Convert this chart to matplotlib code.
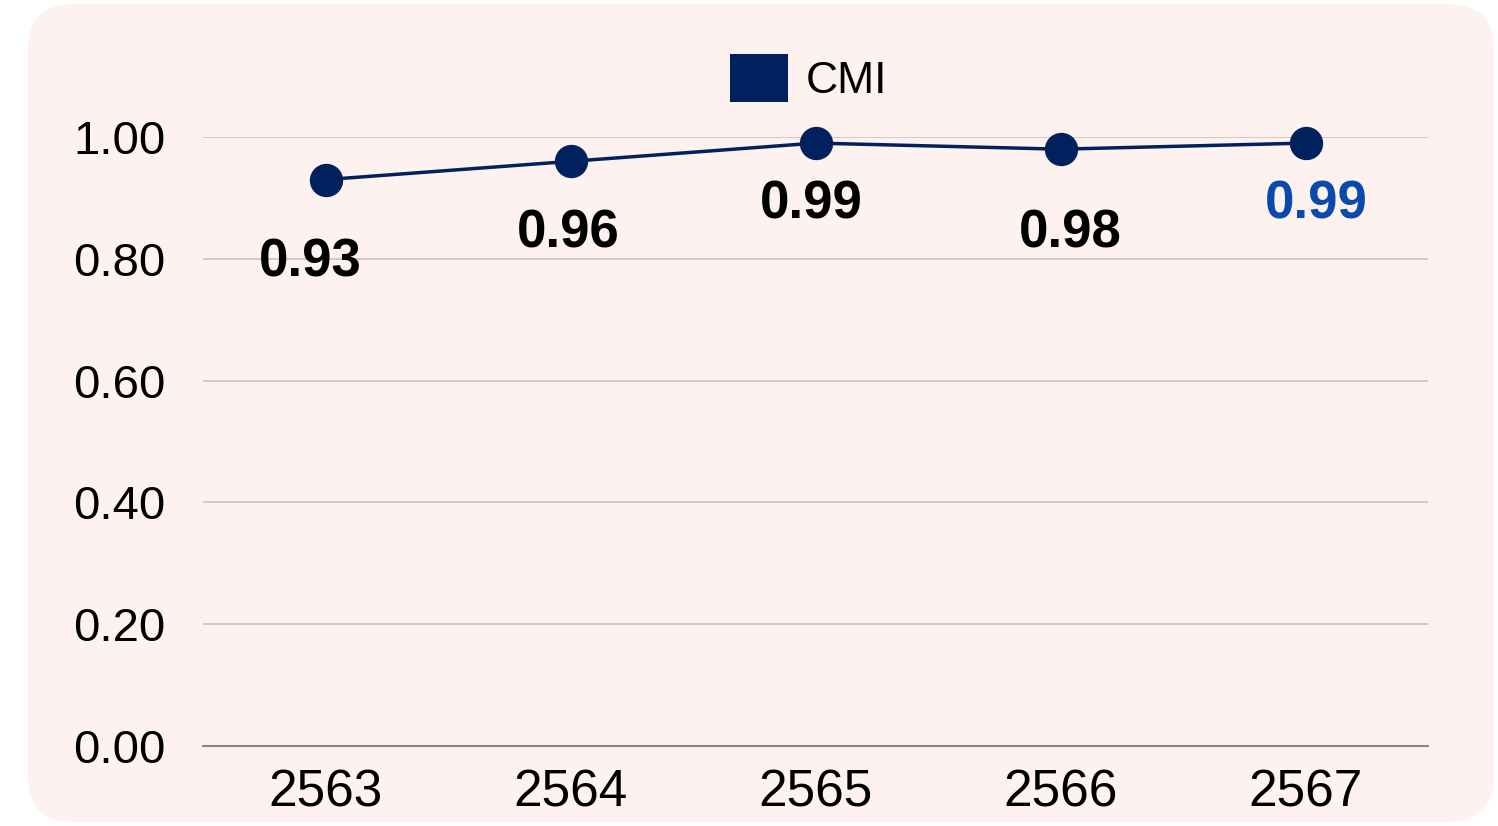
import matplotlib.pyplot as plt
from matplotlib.patches import FancyBboxPatch
from matplotlib.transforms import IdentityTransform

years = ["2563", "2564", "2565", "2566", "2567"]
cmi = [0.93, 0.96, 0.99, 0.98, 0.99]
label_colors = ["black", "black", "black", "black", "#0a4aad"]

plt.rcParams["font.family"] = ["Liberation Sans", "DejaVu Sans"]

navy = "#00215e"
W, H = 1498, 826
fig = plt.figure(figsize=(W / 100, H / 100), dpi=100)
fig.patch.set_facecolor("white")

# rounded pink card behind the chart (pixel units)
card = FancyBboxPatch((28, 4), 1466, 818,
                      boxstyle="round,pad=0,rounding_size=45",
                      transform=IdentityTransform(), facecolor="#fdf2f0",
                      edgecolor="none", zorder=-5)
fig.patches.append(card)

ax = fig.add_axes([203 / W, 1 - 746 / H, 1225 / W, 609 / H])
ax.set_facecolor("none")
ax.set_zorder(2)

x = list(range(len(years)))
ax.plot(x, cmi, color=navy, lw=2.5, marker="o", markersize=23,
        label="CMI", clip_on=False, zorder=3)

# value labels below points
label_offsets = [(-11, -60), (-1.5, -52), (-3, -44), (7, -61), (8, -44)]
for xi, v, c, off in zip(x, cmi, label_colors, label_offsets):
    ax.annotate(f"{v:.2f}", (xi, v), xytext=off, textcoords="offset points",
                ha="center", va="center", fontsize=38, fontweight="bold",
                color=c, zorder=4)

ax.set_xlim(-0.5, len(years) - 0.5)
ax.set_ylim(0, 1.0)
yt = [0, 0.2, 0.4, 0.6, 0.8, 1.0]
ax.set_yticks(yt)
ax.set_yticklabels([f"{t:.2f}" for t in yt])
ax.set_xticks(x)
ax.set_xticklabels(years)
ax.tick_params(axis="y", length=0, labelsize=34, pad=27)
ax.tick_params(axis="x", length=0, labelsize=37, pad=16)

ax.grid(axis="y", color="#cbc1bf", lw=1.2)
ax.set_axisbelow(True)
for s in ["top", "right", "left"]:
    ax.spines[s].set_visible(False)
ax.spines["bottom"].set_color("#8a8686")
ax.spines["bottom"].set_linewidth(1.5)

handle = plt.Rectangle((0, 0), 1, 1, facecolor=navy)
ax.legend([handle], ["CMI"], loc="center", bbox_to_anchor=(809 / W, 1 - 78 / H),
          bbox_transform=fig.transFigure, frameon=False, fontsize=32,
          handlelength=1.3, handleheight=1.3, handletextpad=0.4)

fig.savefig("out.png", dpi=100)
